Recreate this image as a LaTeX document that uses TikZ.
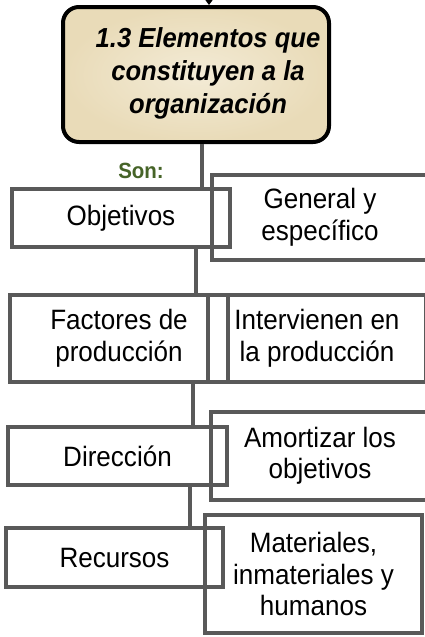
\documentclass[tikz,border=0pt]{standalone}
\usepackage{fontspec}
\setmainfont{Liberation Sans}[FakeStretch=0.93]
\usetikzlibrary{arrows.meta}
\definecolor{linegray}{RGB}{89,89,89}
\definecolor{songreen}{RGB}{70,100,40}
\definecolor{parchin}{RGB}{243,235,214}
\definecolor{parchout}{RGB}{233,219,184}
\tikzset{
  box/.style={draw=linegray, line width=3.5pt, rectangle, inner sep=0pt,
    align=center, font=\fontsize{28}{31.5}\selectfont},
  conn/.style={draw=linegray, line width=3.5pt},
  titlebox/.style={draw=black, line width=4pt, rectangle, rounded corners=16pt,
    inner color=parchin, outer color=parchout, inner sep=0pt},
}
\begin{document}
\begin{tikzpicture}[x=1pt,y=-1pt]
\useasboundingbox (0,0) rectangle (424,637);
\fill[white] (0,0) rectangle (424,637);
% arrow entering title
\coordinate (arr) at (209,-4);
\draw[line width=1.5pt, -{Triangle[width=7pt,length=5pt]}, shorten >=2pt] (arr) -- (209,7);
% title box
\node[titlebox, minimum width=266pt, minimum height=135pt,
  label={[xshift=12pt, yshift=1pt, align=center, font=\fontsize{27.5}{33}\selectfont\bfseries\itshape]center:1.3 Elementos que\\constituyen a la\\organización}]
  (top) at (196,74.5) {};
\node[font=\fontsize{22}{24}\selectfont\bfseries, text=songreen] (son) at (141,171) {Son:};
% left column
\node[box, minimum width=218pt, minimum height=58pt] (obj) at (121,218) {Objetivos};
\node[box, minimum width=218pt, minimum height=87pt] (fac) at (119,338.5) {Factores de\\producción};
\node[box, minimum width=219pt, minimum height=58pt] (dir) at (117.5,456) {Dirección};
\node[box, minimum width=217pt, minimum height=59pt] (rec) at (114.5,557.5) {Recursos};
% right column
\node[box, minimum width=216pt, minimum height=85pt] (gen) at (320,217.5) {General y\\específico};
\node[box, minimum width=218pt, minimum height=87pt] (int) at (317,338.5) {Intervienen en\\la producción};
\node[box, minimum width=218pt, minimum height=88pt] (amo) at (320,456) {Amortizar los\\objetivos};
\node[box, minimum width=217pt, minimum height=118pt] (mat) at (313.5,574) {Materiales,\\inmateriales y\\humanos};
% connectors
\coordinate (c1) at (202,0);
\coordinate (c2) at (196,0);
\coordinate (c3) at (193,0);
\coordinate (c4) at (190,0);
\draw[conn] (top.south -| c1) -- (obj.north -| c1);
\draw[conn] (obj.south -| c2) -- (fac.north -| c2);
\draw[conn] (fac.south -| c3) -- (dir.north -| c3);
\draw[conn] (dir.south -| c4) -- (rec.north -| c4);
\end{tikzpicture}
\end{document}
